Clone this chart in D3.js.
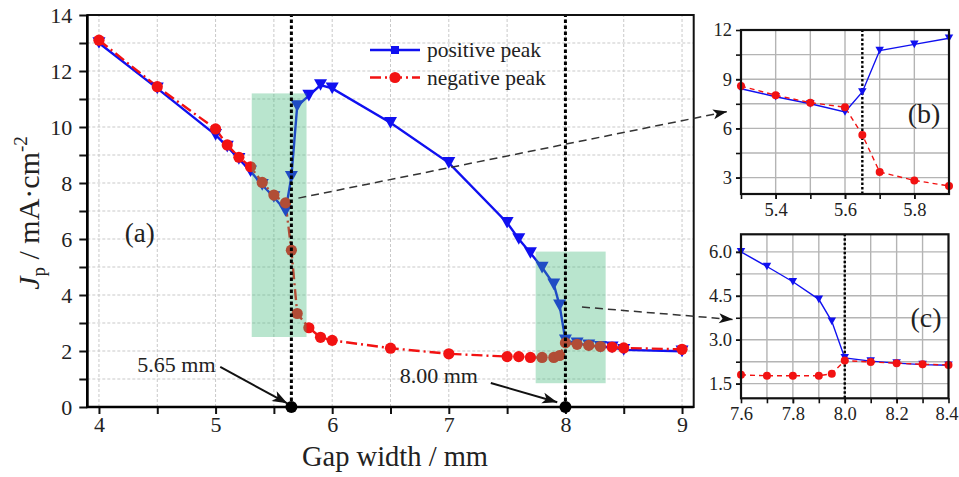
<!DOCTYPE html>
<html>
<head>
<meta charset="utf-8">
<script src="https://cdn.jsdelivr.net/npm/d3@7"></script>
<style>
  html, body { margin: 0; padding: 0; background: #fff; }
  svg { display: block; }
  text { font-family: "Liberation Serif", "Times New Roman", serif; fill: #222; }
</style>
</head>
<body>
<svg id="chart" width="959" height="477"></svg>
<script>
// Gap width (mm) at which the current density peaks were measured
const gapWidth = [4, 4.5, 5, 5.1, 5.2, 5.3, 5.4, 5.5, 5.6, 5.65, 5.7, 5.8, 5.9, 6, 6.5, 7,
                  7.5, 7.6, 7.7, 7.8, 7.9, 7.95, 8, 8.1, 8.2, 8.3, 8.4, 8.5, 9];
// Peak current density J_p (mA·cm^-2)
const positivePeak = [13.0, 11.38, 9.72, 9.3, 8.86, 8.42, 7.93, 7.5, 7.0, 8.22, 10.75, 11.12, 11.5,
                      11.38, 10.15, 8.72, 6.58, 6.0, 5.5, 4.98, 4.38, 3.63, 2.38, 2.27, 2.2, 2.15,
                      2.13, 2.04, 1.99];
const negativePeak = [13.1, 11.44, 9.93, 9.36, 8.92, 8.58, 8.02, 7.57, 7.29, 5.6, 3.34, 2.83, 2.49,
                      2.38, 2.1, 1.9, 1.8, 1.8, 1.77, 1.77, 1.77, 1.84, 2.29, 2.24, 2.2, 2.16,
                      2.14, 2.11, 2.06];
// Transition gaps (mm)
const transitions = [5.65, 8.0];
const transitionLabels = ["5.65 mm", "8.00 mm"];
// Highlighted windows [x0, x1, y0, y1]
const zoomWindows = [[5.31, 5.78, 2.5, 11.2], [7.745, 8.345, 0.85, 5.55]];
// Tick values
const mainXTicks = [4, 5, 6, 7, 8, 9];
const mainXMinor = [4.5, 5.5, 6.5, 7.5, 8.5];
const mainYTicks = [0, 2, 4, 6, 8, 10, 12, 14];
const mainYMinor = [1, 3, 5, 7, 9, 11, 13];
const insetBXTicks = [5.4, 5.6, 5.8];
const insetBYTicks = [3, 6, 9, 12];
const insetCXTicks = [7.6, 7.8, 8.0, 8.2, 8.4];
const insetCYTicks = [1.5, 3.0, 4.5, 6.0];
const seriesNames = ["positive peak", "negative peak"];

const BLUE = "#1010f0", RED = "#f21212";
const svg = d3.select("#chart");

const pos = gapWidth.map((g, i) => ({x: g, y: positivePeak[i]}));
const neg = gapWidth.map((g, i) => ({x: g, y: negativePeak[i]}));

function triDown(s) {
  const w = s, h = s * 0.9;
  return `M${-w/2},${-h/2}L${w/2},${-h/2}L0,${h/2}Z`;
}

function arrowHead(g, x1, y1, x2, y2, len, wid, color) {
  const a = Math.atan2(y2 - y1, x2 - x1);
  const bx = x2 - len * Math.cos(a), by = y2 - len * Math.sin(a);
  const nx = -Math.sin(a) * wid / 2, ny = Math.cos(a) * wid / 2;
  g.append("path")
    .attr("d", `M${x2},${y2}L${bx + nx},${by + ny}L${bx + len*0.25*Math.cos(a)},${by + len*0.25*Math.sin(a)}L${bx - nx},${by - ny}Z`)
    .attr("fill", color);
}

// ---------------- main panel (a) ----------------
const x = d3.scaleLinear([3.9, 9.1], [87.3, 693.7]);
const y = d3.scaleLinear([0, 14], [407, 15]);
const main = svg.append("g");

// dashed grid
const gridX = mainXTicks.concat(mainXMinor);
const gridY = mainYTicks.slice(1, -1).concat(mainYMinor);
main.append("g").selectAll("line").data(gridX).join("line")
  .attr("x1", d => x(d)).attr("x2", d => x(d)).attr("y1", y(0)).attr("y2", y(14))
  .attr("stroke", "#c9c9c9").attr("stroke-width", 1).attr("stroke-dasharray", "3,2");
main.append("g").selectAll("line").data(gridY).join("line")
  .attr("x1", x.range()[0]).attr("x2", x.range()[1]).attr("y1", d => y(d)).attr("y2", d => y(d))
  .attr("stroke", "#c9c9c9").attr("stroke-width", 1).attr("stroke-dasharray", "3,2");

const lineMain = d3.line().x(d => x(d.x)).y(d => y(d.y));
main.append("path").datum(pos).attr("d", lineMain)
  .attr("fill", "none").attr("stroke", BLUE).attr("stroke-width", 2.4);
main.append("path").datum(neg).attr("d", lineMain)
  .attr("fill", "none").attr("stroke", RED).attr("stroke-width", 2.4)
  .attr("stroke-dasharray", "11,4,2,4");
main.append("g").selectAll("path").data(pos).join("path")
  .attr("d", triDown(13)).attr("transform", d => `translate(${x(d.x)},${y(d.y)})`)
  .attr("fill", BLUE);
main.append("g").selectAll("circle").data(neg).join("circle")
  .attr("cx", d => x(d.x)).attr("cy", d => y(d.y)).attr("r", 5.6).attr("fill", RED);

// highlighted windows
main.append("g").selectAll("rect").data(zoomWindows).join("rect")
  .attr("x", d => x(d[0])).attr("width", d => x(d[1]) - x(d[0]))
  .attr("y", d => y(d[3])).attr("height", d => y(d[2]) - y(d[3]))
  .attr("fill", "#3cb878").attr("fill-opacity", 0.36);

// transition markers
main.append("g").selectAll("line").data(transitions).join("line")
  .attr("x1", d => x(d)).attr("x2", d => x(d)).attr("y1", y(0)).attr("y2", y(14))
  .attr("stroke", "#000").attr("stroke-width", 3).attr("stroke-dasharray", "3.5,2.5");

// axes
main.append("g").attr("transform", `translate(0,${y(0)})`)
  .call(d3.axisBottom(x).tickValues(mainXTicks).tickSize(7).tickPadding(2).tickFormat(d3.format("d")));
main.append("g").attr("transform", `translate(0,${y(0)})`)
  .call(d3.axisBottom(x).tickValues(mainXMinor).tickSize(7).tickFormat(""));
main.append("g").attr("transform", `translate(${x(3.9)},0)`)
  .call(d3.axisLeft(y).tickValues(mainYTicks).tickSize(8).tickPadding(7).tickFormat(d3.format("d")));
main.append("g").attr("transform", `translate(${x(3.9)},0)`)
  .call(d3.axisLeft(y).tickValues(mainYMinor).tickSize(8).tickFormat(""));
main.selectAll(".domain").remove();
main.selectAll(".tick line").attr("stroke", "#111").attr("stroke-width", 2);
main.selectAll(".tick text").attr("font-size", 22).attr("fill", "#222")
  .style("font-family", "'Liberation Serif', serif");
// frame
main.append("rect").attr("x", x(3.9)).attr("y", y(14)).attr("width", x(9.1) - x(3.9)).attr("height", y(0) - y(14))
  .attr("fill", "none").attr("stroke", "#111").attr("stroke-width", 2);
main.append("line").attr("x1", x(3.9) - 1).attr("x2", x(9.1)).attr("y1", y(0)).attr("y2", y(0))
  .attr("stroke", "#000").attr("stroke-width", 2.6);
main.append("line").attr("x1", x(3.9)).attr("x2", x(3.9)).attr("y1", y(14)).attr("y2", y(0))
  .attr("stroke", "#000").attr("stroke-width", 2.6);

main.append("g").selectAll("circle").data(transitions).join("circle")
  .attr("cx", d => x(d)).attr("cy", y(0)).attr("r", 6).attr("fill", "#000");

// transition labels with arrows (anchors in data units)
const transAnno = [
  {tx: 5.0, ty: 1.26, x1: 5.04, y1: 1.43, x2: 5.615, y2: 0.13},
  {tx: 7.25, ty: 0.855, x1: 7.36, y1: 0.86, x2: 7.93, y2: 0.17}
];
transAnno.forEach((a, i) => {
  main.append("text").attr("x", x(a.tx)).attr("y", y(a.ty)).attr("text-anchor", "end")
    .attr("font-size", 22).text(transitionLabels[i]);
  main.append("line").attr("x1", x(a.x1)).attr("y1", y(a.y1)).attr("x2", x(a.x2)).attr("y2", y(a.y2))
    .attr("stroke", "#111").attr("stroke-width", 2);
  arrowHead(main, x(a.x1), y(a.y1), x(a.x2), y(a.y2), 15, 11, "#111");
});

// pointers from highlighted windows to insets (main data units)
const pointers = [
  {x1: 5.71, y1: 7.46, x2: 9.386, y2: 10.55},
  {x1: 8.142, y1: 3.57, x2: 9.437, y2: 3.125}
];
pointers.forEach(p => {
  main.append("line").attr("x1", x(p.x1)).attr("y1", y(p.y1)).attr("x2", x(p.x2)).attr("y2", y(p.y2))
    .attr("stroke", "#333").attr("stroke-width", 1.5).attr("stroke-dasharray", "8,5");
  arrowHead(main, x(p.x1), y(p.y1), x(p.x2), y(p.y2), 14, 10, "#111");
});

main.append("text").attr("x", x(4.35)).attr("y", y(5.9)).attr("text-anchor", "middle")
  .attr("font-size", 27).text("(a)");

// legend
const leg = main.append("g");
[0, 1].forEach(i => {
  const ly = 50 + i * 27.5;
  leg.append("line").attr("x1", 370).attr("x2", 420).attr("y1", ly).attr("y2", ly)
    .attr("stroke", i ? RED : BLUE).attr("stroke-width", 2.4)
    .attr("stroke-dasharray", i ? "11,4,2,4" : null);
  if (i) leg.append("circle").attr("cx", 395).attr("cy", ly).attr("r", 5.6).attr("fill", RED);
  else leg.append("rect").attr("x", 391).attr("y", ly - 4).attr("width", 8).attr("height", 8).attr("fill", BLUE);
  leg.append("text").attr("x", 427).attr("y", ly + 7).attr("font-size", 21.5).text(seriesNames[i]);
});

// axis titles
main.append("text").attr("x", 395).attr("y", 466).attr("text-anchor", "middle")
  .attr("font-size", 28.5).text("Gap width / mm");
const yt = main.append("text").attr("transform", "translate(39,213) rotate(-90)")
  .attr("text-anchor", "middle").attr("font-size", 30);
yt.append("tspan").attr("font-style", "italic").text("J");
yt.append("tspan").attr("font-size", 19).attr("dy", 6).text("p");
yt.append("tspan").attr("dy", -6).text(" / mA·cm");
yt.append("tspan").attr("font-size", 19).attr("dy", -12).text("-2");

// ---------------- insets (b) and (c) ----------------
function inset(opts) {
  const {xd, xr, yd, yr, xTicks, xGrid, yTicks, yGrid, fmt, label, lx, ly, mark} = opts;
  const sx = d3.scaleLinear(xd, xr), sy = d3.scaleLinear(yd, yr);
  const g = svg.append("g");
  g.append("g").selectAll("line").data(xGrid).join("line")
    .attr("x1", d => sx(d)).attr("x2", d => sx(d)).attr("y1", yr[0]).attr("y2", yr[1])
    .attr("stroke", "#b4b4b4").attr("stroke-width", 1.4);
  g.append("g").selectAll("line").data(yGrid).join("line")
    .attr("x1", xr[0]).attr("x2", xr[1]).attr("y1", d => sy(d)).attr("y2", d => sy(d))
    .attr("stroke", "#b4b4b4").attr("stroke-width", 1.4);
  const eps = 1e-6;
  const inside = arr => arr.filter(d => d.x >= xd[0] - eps && d.x <= xd[1] + eps);
  const ln = d3.line().x(d => sx(d.x)).y(d => sy(d.y));
  g.append("path").datum(inside(pos)).attr("d", ln).attr("fill", "none")
    .attr("stroke", BLUE).attr("stroke-width", 1.4);
  g.append("path").datum(inside(neg)).attr("d", ln).attr("fill", "none")
    .attr("stroke", RED).attr("stroke-width", 1.4).attr("stroke-dasharray", "5,4");
  g.append("line").attr("x1", sx(mark)).attr("x2", sx(mark)).attr("y1", yr[0]).attr("y2", yr[1])
    .attr("stroke", "#000").attr("stroke-width", 2.4).attr("stroke-dasharray", "2.5,2");
  g.append("g").selectAll("path").data(inside(pos)).join("path")
    .attr("d", triDown(8.5)).attr("transform", d => `translate(${sx(d.x)},${sy(d.y)})`).attr("fill", BLUE);
  g.append("g").selectAll("circle").data(inside(neg)).join("circle")
    .attr("cx", d => sx(d.x)).attr("cy", d => sy(d.y)).attr("r", 4).attr("fill", RED);

  const bx = g.append("g").attr("transform", `translate(0,${yr[0]})`)
    .call(d3.axisBottom(sx).tickValues(xTicks).tickSize(5).tickPadding(4).tickFormat(d3.format(".1f")));
  g.append("g").attr("transform", `translate(0,${yr[0]})`)
    .call(d3.axisBottom(sx).tickValues(xGrid).tickSize(5).tickFormat(""));
  g.append("g").attr("transform", `translate(${xr[0]},0)`)
    .call(d3.axisLeft(sy).tickValues(yTicks).tickSize(5).tickPadding(4).tickFormat(d3.format(fmt)));
  g.append("g").attr("transform", `translate(${xr[0]},0)`)
    .call(d3.axisLeft(sy).tickValues(yGrid).tickSize(5).tickFormat(""));
  g.selectAll(".domain").remove();
  g.selectAll(".tick line").attr("stroke", "#111").attr("stroke-width", 1.6);
  g.selectAll(".tick text").attr("font-size", 18.5).attr("fill", "#333")
    .style("font-family", "'Liberation Serif', serif");
  // keep the right-most label inside the page edge
  bx.selectAll(".tick text").filter(d => Math.abs(sx(d) - xr[1]) < 1).attr("dx", -2);
  g.append("rect").attr("x", xr[0]).attr("y", yr[1]).attr("width", xr[1] - xr[0]).attr("height", yr[0] - yr[1])
    .attr("fill", "none").attr("stroke", "#111").attr("stroke-width", 2.2);
  g.append("text").attr("x", sx(lx)).attr("y", sy(ly)).attr("text-anchor", "middle")
    .attr("font-size", 28).text(label);
}

inset({
  xd: [5.3, 5.9], xr: [741, 949], yd: [2, 12], yr: [194, 30],
  xTicks: insetBXTicks, xGrid: [5.3, 5.4, 5.5, 5.6, 5.7, 5.8],
  yTicks: insetBYTicks, yGrid: [3, 4.5, 6, 7.5, 9, 10.5],
  fmt: "d", label: "(b)", lx: 5.828, ly: 6.33, mark: transitions[0]
});
inset({
  xd: [7.6, 8.4], xr: [741, 948.5], yd: [1.0, 6.6], yr: [398.3, 234.3],
  xTicks: insetCXTicks, xGrid: [7.7, 7.8, 7.9, 8.0, 8.1, 8.2, 8.3],
  yTicks: insetCYTicks, yGrid: [1.5, 2.25, 3.0, 3.75, 4.5, 5.25, 6.0],
  fmt: ".1f", label: "(c)", lx: 8.313, ly: 3.44, mark: transitions[1]
});
</script>
</body>
</html>
